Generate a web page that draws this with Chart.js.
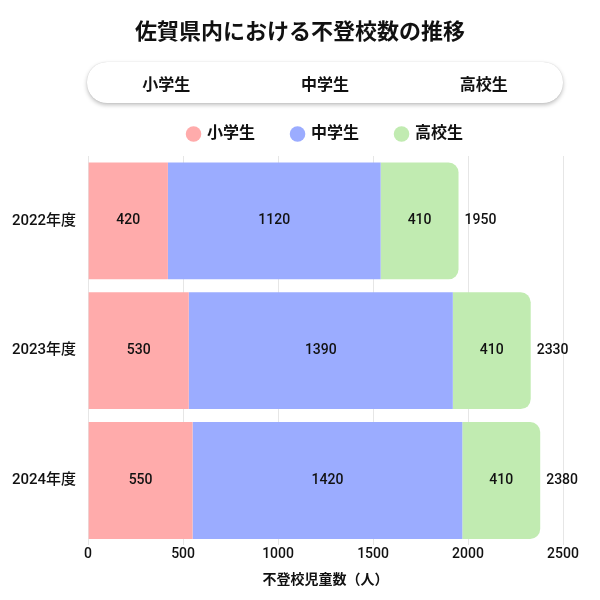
<!DOCTYPE html>
<html>
<head>
<meta charset="utf-8">
<script src="https://cdn.jsdelivr.net/npm/chart.js@4/dist/chart.umd.min.js"></script>
<style>
  body { margin: 0; background: #fff; }
  .wrap { position: relative; width: 600px; height: 600px; font-family: Roboto, "Noto Sans CJK JP", sans-serif; color: #111; }
  .title {
    position: absolute; left: 0; top: 18px; width: 600px; text-align: center;
    font-size: 22px; font-weight: bold; line-height: 28px;
  }
  .box {
    position: absolute; left: 87px; top: 62px; width: 476px; height: 41px;
    border-radius: 20px; background: #fff;
    box-shadow: 0 2px 4px rgba(0,0,0,0.25), 0 0 1px rgba(0,0,0,0.2);
    display: flex; align-items: center;
    font-size: 16px; font-weight: bold;
  }
  .box span { flex: 1; text-align: center; }
</style>
</head>
<body>
<div class="wrap">
  <canvas id="myChart1" width="600" height="600"></canvas>
  <div class="title">佐賀県内における不登校数の推移</div>
  <div class="box"><span>小学生</span><span>中学生</span><span>高校生</span></div>
</div>
<script>
const years = ["2022年度", "2023年度", "2024年度"]
const elementary = [420, 530, 550]
const juniorHigh = [1120, 1390, 1420]
const highSchool = [410, 410, 410]
const totals = [1950, 2330, 2380]
const xTicks = [0, 500, 1000, 1500, 2000, 2500]

const fontFamily = 'Roboto, "Noto Sans CJK JP", sans-serif'

// segment values inside, totals at the end of each bar
const barLabels = {
    id: 'barLabels',
    afterLayout(chart) {
        // legend sits centred over the plot area, a bit above its slot
        const lg = chart.legend
        const shift = (chart.chartArea.left + chart.chartArea.right) / 2 - (lg.left + lg.right) / 2
        lg.left += shift
        lg.right += shift
        lg.top -= 4
        lg.bottom -= 4
    },
    afterDatasetsDraw(chart) {
        const ctx = chart.ctx
        ctx.save()
        ctx.font = '500 14px ' + fontFamily
        ctx.fillStyle = '#111'
        ctx.textBaseline = 'middle'
        chart.data.datasets.forEach((ds, i) => {
            chart.getDatasetMeta(i).data.forEach((bar, j) => {
                ctx.textAlign = 'center'
                ctx.fillText(ds.data[j], (bar.x + bar.base) / 2, bar.y)
                if (i === chart.data.datasets.length - 1) {
                    ctx.textAlign = 'left'
                    ctx.fillText(totals[j], bar.x + 6, bar.y)
                }
            })
        })
        ctx.restore()
    }
}

var barc = document.getElementById('myChart1').getContext('2d');
var myChart1 = new Chart(barc, {
    type: 'bar',
    data: {
        labels: years,
        datasets: [
            { label: '小学生', data: elementary, backgroundColor: 'rgb(255, 171, 171)' },
            { label: '中学生', data: juniorHigh, backgroundColor: 'rgb(155, 172, 255)' },
            { label: '高校生', data: highSchool, backgroundColor: 'rgb(193, 235, 177)', borderRadius: 10, borderSkipped: 'start' },
        ],
    },
    options: {
        indexAxis: 'y',
        responsive: false,
        animation: false,
        layout: { padding: { top: 93, left: 0, right: 37, bottom: 11 } },
        datasets: { bar: { categoryPercentage: 0.9, barPercentage: 1 } },
        scales: {
            x: {
                stacked: true, min: 0, max: 2500,
                afterBuildTicks: (axis) => { axis.ticks = xTicks.map(v => ({ value: v })) },
                grid: { color: '#e6e6e6', drawTicks: false },
                border: { display: false },
                ticks: { color: '#111', padding: 1, callback: (v) => String(v), font: { family: fontFamily, size: 14, weight: '500' } },
                title: { display: true, text: '不登校児童数（人）', color: '#111', padding: { top: 8, bottom: 0 }, font: { family: fontFamily, size: 14, weight: 'bold' } },
            },
            y: {
                stacked: true,
                grid: { display: false, drawTicks: false },
                border: { display: false },
                ticks: { color: '#111', padding: 12, font: { family: fontFamily, size: 15, weight: '500' } },
            },
        },
        plugins: {
            legend: {
                labels: {
                    usePointStyle: true, pointStyle: 'circle', boxWidth: 11, boxHeight: 11,
                    padding: 37, color: '#111',
                    font: { family: fontFamily, size: 16, weight: 'bold' },
                },
            },
            tooltip: { enabled: false },
        },
    },
    plugins: [barLabels],
});
</script>
</body>
</html>
